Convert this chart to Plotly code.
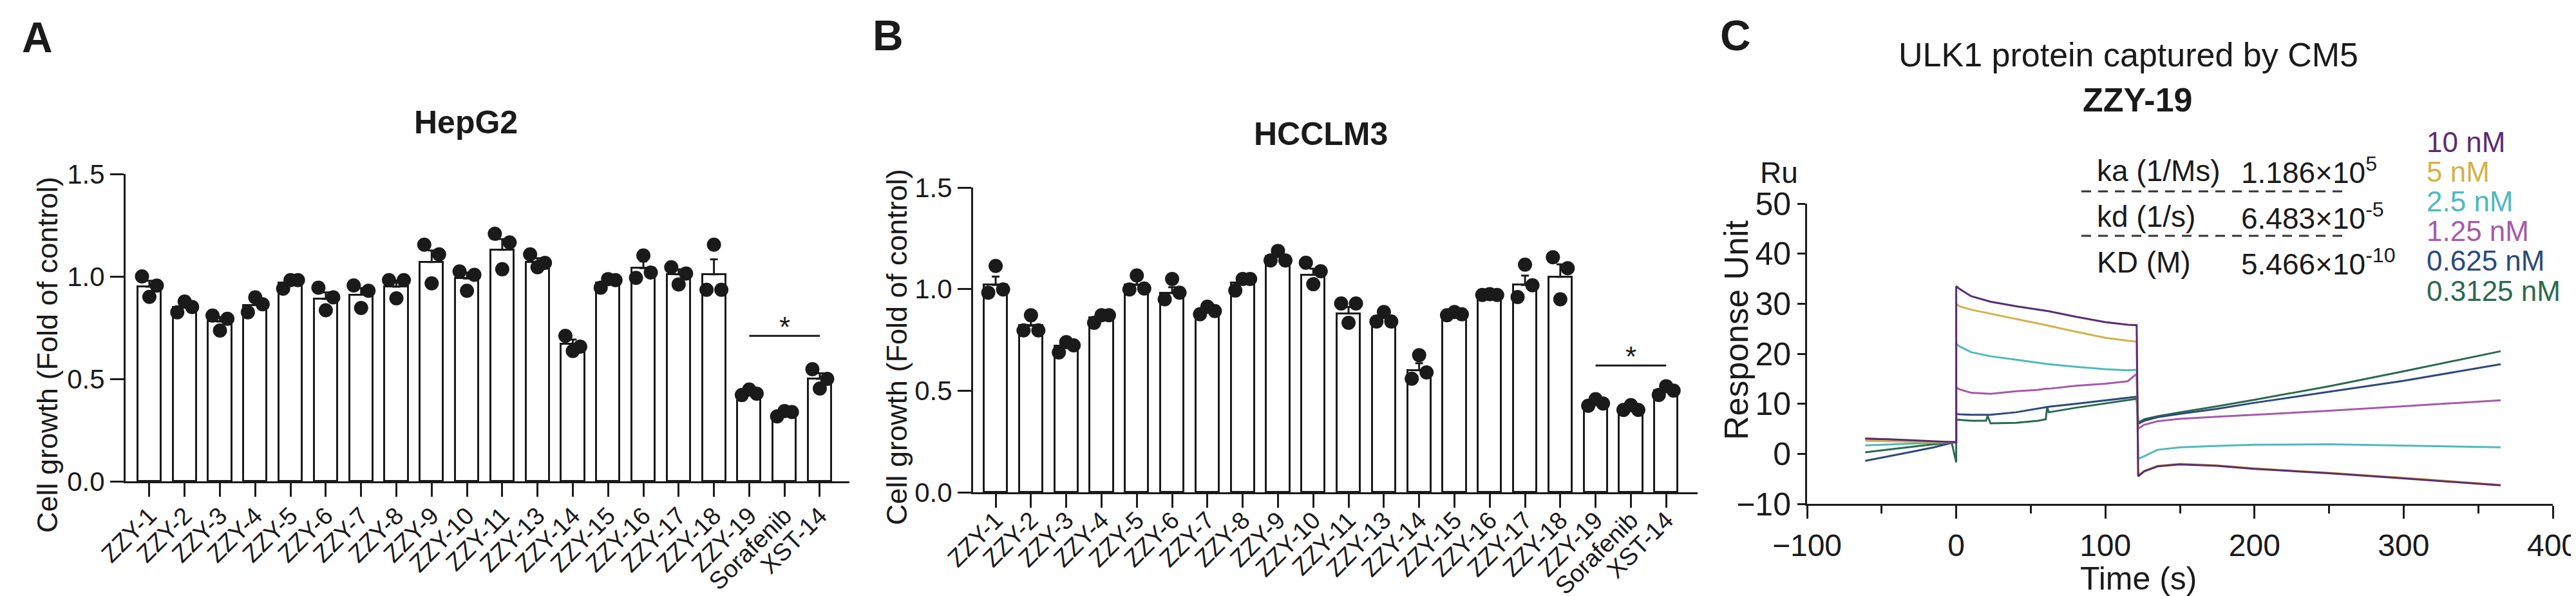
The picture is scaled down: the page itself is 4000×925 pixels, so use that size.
import numpy as np
import plotly.graph_objects as go

W, H = 4000, 925
FONT = "Liberation Sans, Arial, sans-serif"
INK = "#1a1a1a"

# ─── Data: cell growth (A = HepG2, B = HCCLM3) ───────────────────────────────
COMPOUNDS = ["ZZY-1", "ZZY-2", "ZZY-3", "ZZY-4", "ZZY-5", "ZZY-6", "ZZY-7",
             "ZZY-8", "ZZY-9", "ZZY-10", "ZZY-11", "ZZY-13", "ZZY-14", "ZZY-15",
             "ZZY-16", "ZZY-17", "ZZY-18", "ZZY-19", "Sorafenib", "XST-14"]

HEPG2_MEAN = [0.95, 0.85, 0.78, 0.86, 0.97, 0.89, 0.91, 0.95, 1.07, 0.99,
              1.13, 1.07, 0.67, 0.97, 1.04, 1.01, 1.01, 0.43, 0.33, 0.50]
HEPG2_REPS = [
    [1.00, 0.90, 0.955], [0.825, 0.877, 0.851], [0.809, 0.736, 0.793],
    [0.825, 0.898, 0.864], [0.94, 0.982, 0.982], [0.945, 0.835, 0.898],
    [0.956, 0.846, 0.930], [0.982, 0.893, 0.982], [1.155, 0.966, 1.108],
    [1.024, 0.930, 1.008], [1.208, 1.035, 1.166], [1.108, 1.045, 1.066],
    [0.710, 0.636, 0.657], [0.945, 0.987, 0.982], [0.993, 1.102, 1.019],
    [1.045, 0.961, 1.014], [0.935, 1.155, 0.935], [0.421, 0.448, 0.428],
    [0.317, 0.343, 0.338], [0.547, 0.453, 0.500],
]

HCCLM3_MEAN = [1.02, 0.82, 0.72, 0.86, 1.02, 0.98, 0.89, 1.03, 1.16, 1.07,
               0.88, 0.86, 0.60, 0.88, 0.97, 1.02, 1.06, 0.44, 0.41, 0.50]
HCCLM3_REPS = [
    [0.982, 1.114, 0.998], [0.797, 0.871, 0.797], [0.688, 0.739, 0.723],
    [0.834, 0.871, 0.871], [0.998, 1.067, 1.003], [0.950, 1.050, 0.982],
    [0.876, 0.913, 0.892], [0.993, 1.050, 1.050], [1.141, 1.188, 1.141],
    [1.130, 1.024, 1.088], [0.929, 0.834, 0.929], [0.840, 0.887, 0.840],
    [0.559, 0.675, 0.590], [0.871, 0.887, 0.876], [0.971, 0.975, 0.971],
    [0.961, 1.120, 1.019], [1.157, 0.950, 1.103], [0.426, 0.458, 0.437],
    [0.405, 0.429, 0.405], [0.479, 0.522, 0.500],
]

SIG_FROM, SIG_TO, SIG_STAR = "ZZY-19", "XST-14", "Sorafenib"
HEPG2_SIG_Y = 0.71
HCCLM3_SIG_Y = 0.624

# ─── Data: SPR sensorgram (C) ────────────────────────────────────────────────
TIME_S = [-61, -45, -30, -15, -3, 0, 0, 2, 10, 20, 21, 23, 40, 55, 60, 61, 62,
          80, 100, 115, 121, 122, 126, 135, 150, 175, 200, 250, 300, 365]
RU_10NM = [3.0, 2.9, 2.7, 2.5, 2.3, 2.3, 33.5, 33.0, 31.5, 30.6, 30.5, 30.4,
           29.5, 28.8, 28.6, 28.5, 28.5, 27.4, 26.3, 25.8, 25.7, -4.5, -3.5,
           -2.5, -2.1, -2.4, -3.0, -3.9, -4.9, -6.3]
RU_5NM = [2.6, 2.5, 2.4, 2.3, 2.3, 2.3, 30.0, 29.5, 28.8, 28.2, 28.1, 28.0,
          27.0, 26.1, 25.8, 25.7, 25.6, 24.4, 23.2, 22.6, 22.4, -4.3, -3.4,
          -2.4, -2.0, -2.3, -2.9, -3.8, -4.8, -6.2]
RU_2_5NM = [1.7, 1.9, 2.0, 2.2, 2.3, 2.3, 22.0, 21.5, 20.3, 19.7, 19.6, 19.5,
            18.8, 18.2, 18.0, 18.0, 17.9, 17.4, 16.9, 16.7, 16.8, -1.0, -0.5,
            0.8, 1.3, 1.6, 1.8, 1.9, 1.6, 1.3]
RU_1_25NM = [3.1, 2.8, 2.6, 2.4, 2.4, 2.4, 13.3, 12.9, 12.2, 12.0, 12.0, 12.0,
             12.5, 12.8, 13.0, 13.0, 13.0, 13.6, 14.0, 14.5, 16.0, 5.0, 5.8,
             6.5, 7.0, 7.4, 7.8, 8.6, 9.5, 10.7]
RU_0_625NM = [-1.4, -0.5, 0.4, 1.3, 2.2, 2.3, 8.0, 7.9, 7.8, 7.8, 7.8, 7.8,
              8.3, 9.0, 9.3, 9.3, 9.4, 10.0, 10.7, 11.2, 11.4, 6.0, 6.6, 7.3,
              8.0, 9.0, 10.2, 12.4, 14.6, 17.9]
RU_0_3125NM = [0.3, 0.9, 1.4, 1.9, 2.2, -1.7, 6.8, 6.8, 6.6, 6.6, 7.6, 6.1,
               6.2, 6.6, 6.9, 9.4, 8.3, 9.2, 10.1, 10.8, 11.0, 6.2, 6.9, 7.5,
               8.3, 9.5, 10.8, 13.5, 16.5, 20.5]

CONC_LABELS = ["10 nM", "5 nM", "2.5 nM", "1.25 nM", "0.625 nM", "0.3125 nM"]
CONC_COLORS = ["#5b2c6f", "#d2b24a", "#4fb9bb", "#a65aaa", "#2c4a7c", "#2b6a4e"]

KIN_NAMES = ["ka (1/Ms)", "kd (1/s)", "KD (M)"]
KIN_VALUES = ["1.186×10<sup>5</sup>", "6.483×10<sup>-5</sup>", "5.466×10<sup>-10</sup>"]

JITTER = np.array([-0.21, 0.0, 0.21])


def px(x, y):
    """Pixel position -> paper coordinates."""
    return x / W, 1 - y / H


def txt(fig, x, y, text, size, xanchor="center", color=INK, angle=0):
    xp, yp = px(x, y)
    fig.add_annotation(x=xp, y=yp, xref="paper", yref="paper", text=text,
                       showarrow=False, xanchor=xanchor, yanchor="middle",
                       textangle=angle, font=dict(family=FONT, size=size, color=color))


def bar_panel(fig, n, means, reps, sig_y, xdom, ydom, xrange, standoff):
    xa, ya = ("x", "y") if n == 1 else (f"x{n}", f"y{n}")
    idx = np.arange(len(COMPOUNDS))
    reps = np.array(reps)
    sem = reps.std(axis=1, ddof=1) / np.sqrt(reps.shape[1])

    fig.add_trace(go.Bar(
        x=idx, y=means, width=0.66, xaxis=xa, yaxis=ya, showlegend=False,
        marker=dict(color="white", line=dict(color=INK, width=3)),
        error_y=dict(type="data", symmetric=False, array=sem,
                     arrayminus=np.zeros_like(sem), color=INK, thickness=3, width=6),
    ))
    fig.add_trace(go.Scatter(
        x=(idx[:, None] + JITTER[None, :]).ravel(), y=reps.ravel(),
        mode="markers", xaxis=xa, yaxis=ya, showlegend=False,
        marker=dict(color=INK, size=22, line=dict(width=0)),
    ))

    i0, i1, istar = (COMPOUNDS.index(c) for c in (SIG_FROM, SIG_TO, SIG_STAR))
    fig.add_shape(type="line", xref=xa, yref=ya, x0=i0, x1=i1, y0=sig_y, y1=sig_y,
                  line=dict(color=INK, width=3))
    fig.add_annotation(x=istar, y=sig_y, xref=xa, yref=ya, text="*", showarrow=False,
                       yanchor="middle", yshift=14,
                       font=dict(family=FONT, size=44, color=INK))

    axis_common = dict(showline=True, linewidth=3, linecolor=INK, ticks="outside",
                       ticklen=21, tickwidth=3, tickcolor=INK, showgrid=False,
                       zeroline=False, automargin=False)
    key = "" if n == 1 else str(n)
    fig.update_layout(**{
        f"xaxis{key}": dict(domain=xdom, range=xrange, anchor=ya, tickmode="array",
                            tickvals=idx, ticktext=COMPOUNDS, tickangle=-45,
                            ticklabelstandoff=standoff,
                            tickfont=dict(family=FONT, size=38, color=INK), **axis_common),
        f"yaxis{key}": dict(domain=ydom, range=[0, 1.5], anchor=xa, tickmode="array",
                            tickvals=[0, 0.5, 1.0, 1.5], ticktext=["0.0", "0.5", "1.0", "1.5"],
                            tickfont=dict(family=FONT, size=42, color=INK), **axis_common),
    })


fig = go.Figure()

# Panel A
bar_panel(fig, 1, HEPG2_MEAN, HEPG2_REPS, HEPG2_SIG_Y,
          [187 / W, 1311 / W], [1 - 739 / H, 1 - 262 / H], [-0.675, 19.84], -8)
# Panel B
bar_panel(fig, 2, HCCLM3_MEAN, HCCLM3_REPS, HCCLM3_SIG_Y,
          [1503 / W, 2628 / W], [1 - 756 / H, 1 - 283 / H], [-0.64, 19.89], -18)

# Panel C: sensorgram
series = [RU_10NM, RU_5NM, RU_2_5NM, RU_1_25NM, RU_0_625NM, RU_0_3125NM]
for ru, name, col in list(zip(series, CONC_LABELS, CONC_COLORS))[::-1]:
    fig.add_trace(go.Scatter(x=TIME_S, y=ru, mode="lines", name=name, xaxis="x3",
                             yaxis="y3", showlegend=False,
                             line=dict(color=col, width=3)))

fig.update_layout(
    xaxis3=dict(domain=[2798 / W, 3956 / W], range=[-100, 400], anchor="y3",
                tickmode="linear", tick0=0, dtick=100, ticks="outside", ticklen=20,
                tickwidth=3, tickcolor=INK, showline=True, linewidth=3, linecolor=INK,
                minor=dict(dtick=50, tick0=0, ticks="outside", ticklen=12,
                           tickwidth=3, tickcolor=INK),
                tickfont=dict(family=FONT, size=48, color=INK), showgrid=False,
                zeroline=False, automargin=False),
    yaxis3=dict(domain=[1 - 774 / H, 1 - 308 / H], range=[-10, 50], anchor="x3",
                tickmode="linear", tick0=0, dtick=10, ticks="outside", ticklen=12,
                tickwidth=3, tickcolor=INK, showline=True, linewidth=3, linecolor=INK,
                tickfont=dict(family=FONT, size=50, color=INK), showgrid=False,
                zeroline=False, automargin=False),
)

# ─── Text ────────────────────────────────────────────────────────────────────
txt(fig, 50, 50, "<b>A</b>", 66)
txt(fig, 1371, 47, "<b>B</b>", 66)
txt(fig, 2687, 47, "<b>C</b>", 66)

txt(fig, 715, 182, "<b>HepG2</b>", 50)
txt(fig, 2043, 200, "<b>HCCLM3</b>", 50)
txt(fig, 65, 543, "Cell growth (Fold of control)", 45, angle=-90)
txt(fig, 1384, 531, "Cell growth (Fold of control)", 45, angle=-90)

txt(fig, 3297, 77, "ULK1 protein captured by CM5", 52)
txt(fig, 3311, 147, "<b>ZZY-19</b>", 52)
txt(fig, 2754, 260, "Ru", 46)
txt(fig, 2688, 504, "Response Unit", 52, angle=-90)
txt(fig, 3312, 890, "Time (s)", 50)

for i, (name, val) in enumerate(zip(KIN_NAMES, KIN_VALUES)):
    ry = 257 + i * 71
    txt(fig, 3246, ry, name, 46, xanchor="left")
    txt(fig, 3470, ry, val, 46, xanchor="left")
for ly in (289, 358):
    x0, y0 = px(3224, ly)
    x1, _ = px(3640, ly)
    fig.add_shape(type="line", xref="paper", yref="paper", x0=x0, x1=x1, y0=y0, y1=y0,
                  line=dict(color="#333333", width=3, dash="15px,11px"))

for i, (name, col) in enumerate(zip(CONC_LABELS, CONC_COLORS)):
    txt(fig, 3758, 212 + i * 46.2, name, 44, xanchor="left", color=col)

fig.update_layout(
    width=W, height=H, autosize=False,
    margin=dict(l=0, r=0, t=0, b=0),
    paper_bgcolor="white", plot_bgcolor="rgba(0,0,0,0)",
    font=dict(family=FONT, color=INK),
    bargap=0,
)

fig.write_html("out.html")
